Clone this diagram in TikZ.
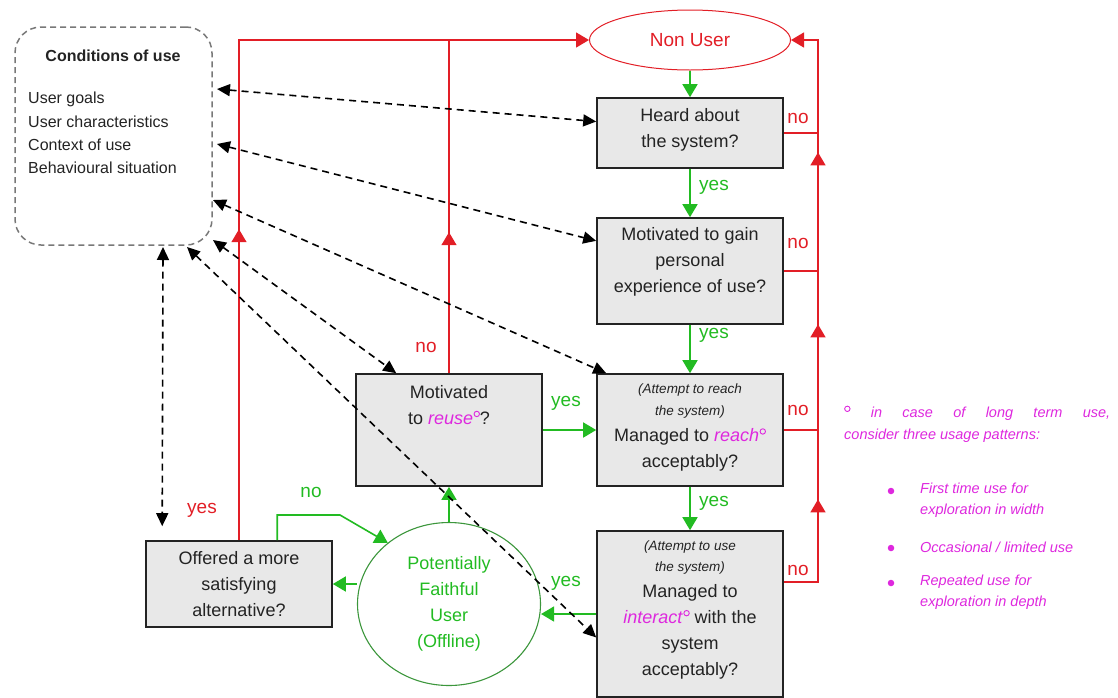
\documentclass[tikz,border=0pt]{standalone}
\usepackage{fontspec}
\setmainfont{Liberation Sans}
\usetikzlibrary{arrows.meta,shapes.geometric,decorations.markings,calc}

\definecolor{flowred}{RGB}{226,30,38}
\definecolor{flowgreen}{RGB}{34,187,34}
\definecolor{ringgreen}{RGB}{60,150,60}
\definecolor{usemagenta}{RGB}{222,40,222}
\definecolor{boxfill}{RGB}{232,232,232}
\definecolor{inkgray}{RGB}{35,35,35}
\definecolor{framegray}{RGB}{120,120,120}

% small ring that marks the terms explained in the side note
\newcommand{\usering}[1]{\tikz[x=1pt,y=1pt,baseline={(0,-#1)}]\draw[usemagenta,line width=0.9pt] (0,0) circle[radius=2.7pt];}
\newcommand{\usemark}{\kern0.5pt\usering{10.5pt}}
\newcommand{\hl}[1]{\textcolor{usemagenta}{\textit{#1}}}

\begin{document}
\begin{tikzpicture}[x=1pt,y=-1pt,
  >={Triangle[length=13pt,width=15pt]},
  question/.style={draw=inkgray,line width=1.6pt,fill=boxfill,minimum width=186pt,inner sep=0pt},
  qtext/.style={align=center,text=inkgray,font=\fontsize{18}{26}\selectfont,inner sep=0pt},
  qnote/.style={align=center,text=inkgray,font=\fontsize{13.5}{22}\selectfont\itshape,inner sep=0pt},
  redline/.style={draw=flowred,line width=1.4pt},
  greenline/.style={draw=flowgreen,line width=1.6pt,->},
  relation/.style={draw=black,line width=1.6pt,dash pattern=on 7pt off 5pt,<->,>={Triangle[length=13pt,width=12pt]}},
  redlabel/.style={text=flowred,font=\fontsize{19}{20}\selectfont,inner sep=0pt},
  greenlabel/.style={text=flowgreen,font=\fontsize{19}{20}\selectfont,inner sep=0pt},
  notetext/.style={text=usemagenta,font=\fontsize{14.5}{22}\selectfont\itshape,align=left,inner sep=0pt},
  notedot/.style={circle,fill=usemagenta,inner sep=0pt,minimum size=6.5pt}
]
\useasboundingbox (0,0) rectangle (1118,697);

% ---------- conditions of use ----------
\node[draw=framegray,line width=1.5pt,dash pattern=on 6pt off 4pt,rounded corners=26pt,
      minimum width=197pt,minimum height=218pt] (cond) at (113.5,136) {};
\node[font=\fontsize{16}{20}\selectfont\bfseries,text=inkgray,inner sep=0pt] (condtitle) at (113,56) {Conditions of use};
\node[anchor=west,align=left,font=\fontsize{16}{23.3}\selectfont,text=inkgray,inner sep=0pt] (condlist) at (28,133)
  {User goals\\User characteristics\\Context of use\\Behavioural situation};

% ---------- states ----------
\node[ellipse,draw=flowred,line width=1pt,minimum width=201pt,minimum height=60pt,
      text=flowred,font=\fontsize{19}{22}\selectfont] (nonuser) at (690,40) {Non User};
\node[ellipse,draw=ringgreen,line width=1.1pt,minimum width=183pt,minimum height=163pt,inner sep=0pt] (pfu) at (449,604) {};
\node[align=center,text=flowgreen,font=\fontsize{18}{26}\selectfont,inner sep=0pt] (pfutext) at (449,604)
  {Potentially\\Faithful\\User\\(Offline)};

% ---------- questions ----------
\node[question,minimum height=70pt] (heard) at (690,133) {};
\node[qtext] (heardtext) at (690,130) {Heard about\\the system?};

\node[question,minimum height=106pt] (gain) at (690,271) {};
\node[qtext] (gaintext) at (690,262) {Motivated to gain\\personal\\experience of use?};

\node[question,minimum height=112pt] (reach) at (690,430) {};
\node[qnote] (reachnote) at (690,401) {(Attempt to reach\\the system)};
\node[qtext] (reachtext) at (690,450) {Managed to \hl{reach}\usemark\\acceptably?};

\node[question,minimum height=166pt] (use) at (690,614) {};
\node[qnote,font=\fontsize{13.5}{21}\selectfont\itshape] (usenote) at (690,557) {(Attempt to use\\the system)};
\node[qtext] (usetext) at (690,632) {Managed to\\\hl{interact}\usemark{} with the\\system\\acceptably?};

\node[question,minimum height=112pt] (reuse) at (449,430) {};
\node[qtext] (reusetext) at (449,405) {Motivated\\to \hl{reuse}\usemark?};

\node[question,minimum height=86pt] (offered) at (239,584) {};
\node[qtext] (offeredtext) at (239,584) {Offered a more\\satisfying\\alternative?};

% ---------- "no" paths back to Non User ----------
\coordinate (rail) at (818,40);
\coordinate (useno) at ($(use.north east)!0.31!(use.south east)$);

\draw[redline,->,postaction={decorate},
      decoration={markings,mark=at position 311pt with {\arrow{>}}}]
  (offered.north) |- (nonuser.west);
\draw[redline,postaction={decorate},
      decoration={markings,mark=at position 141pt with {\arrow{>}}}]
  (reuse.north) -- (reuse.north |- nonuser.west);
\draw[redline,->,postaction={decorate},
      decoration={markings,
        mark=at position 117pt with {\arrow{>}},
        mark=at position 292pt with {\arrow{>}},
        mark=at position 464pt with {\arrow{>}}}]
  (useno) -- (useno -| rail) |- (nonuser.east);
\draw[redline] (heard.east) -- (heard.east -| rail);
\draw[redline] (gain.east) -- (gain.east -| rail);
\draw[redline] (reach.east) -- (reach.east -| rail);

\node[redlabel] (noheard) at (798,118) {no};
\node[redlabel] (nogain) at (798,243) {no};
\node[redlabel] (noreach) at (798,410) {no};
\node[redlabel] (nouse) at (798,570) {no};
\node[redlabel] (noreuse) at (426,347) {no};
\node[redlabel] (yesoffered) at (202,510) {yes};

% ---------- "yes" paths ----------
\draw[greenline] (nonuser.south) -- (heard.north);
\draw[greenline] (heard.south) -- (gain.north);
\draw[greenline] (gain.south) -- (reach.north);
\draw[greenline] (reach.south) -- (use.north);
\draw[greenline] (reuse.east) -- (reach.west);
\draw[greenline] (use.west) -- (use.west -| pfu.east);
\draw[greenline] (pfu.north) -- (reuse.south);
\draw[greenline] (offered.east -| pfu.west) -- (offered.east);
\coordinate (offerbend) at (340,515);
\draw[greenline] ($(offered.north west)+(132,0)$) |- (offerbend) -- (pfu.135);

\node[greenlabel] (yesheard) at (714,187) {yes};
\node[greenlabel] (yesgain) at (714,335) {yes};
\node[greenlabel] (yesreach) at (714,503) {yes};
\node[greenlabel] (yesreuse) at (566,403) {yes};
\node[greenlabel] (yesuse) at (566,583) {yes};
\node[greenlabel] (nooffered) at (311,492) {no};

% ---------- links to the conditions of use ----------
\coordinate (c1) at (217,89);
\coordinate (c2) at (217,144);
\coordinate (c3) at (213,200);
\coordinate (c4) at (213,240);
\coordinate (c5) at (187,247);
\coordinate (c6) at (163,247);
\draw[relation] (c1) -- ($(heard.north west)!0.34!(heard.south west)$);
\draw[relation] (c2) -- ($(gain.north west)!0.22!(gain.south west)$);
\draw[relation] (c3) -- ($(reach.north west)+(10,0)$);
\draw[relation] (c4) -- ($(reuse.north west)+(41,0)$);
\draw[relation] (c5) -- ($(use.north west)!0.64!(use.south west)$);
\draw[relation] (c6) -- ($(offered.north west)+(17,-14)$);

% ---------- side note ----------
\node[notetext,anchor=west] (note) at (844,424)
  {\makebox[266pt][s]{\usering{8.5pt} in case of long term use,}\\consider three usage patterns:};
\node[notedot] (dot1) at (891,491) {};
\node[notedot] (dot2) at (891,548) {};
\node[notedot] (dot3) at (891,583) {};
\node[notetext,anchor=west,font=\fontsize{14.5}{21}\selectfont\itshape] (item1) at (920,500) {First time use for\\exploration in width};
\node[notetext,anchor=west] (item2) at (920,547) {Occasional / limited use};
\node[notetext,anchor=west,font=\fontsize{14.5}{21}\selectfont\itshape] (item3) at (920,592) {Repeated use for\\exploration in depth};
\end{tikzpicture}
\end{document}
